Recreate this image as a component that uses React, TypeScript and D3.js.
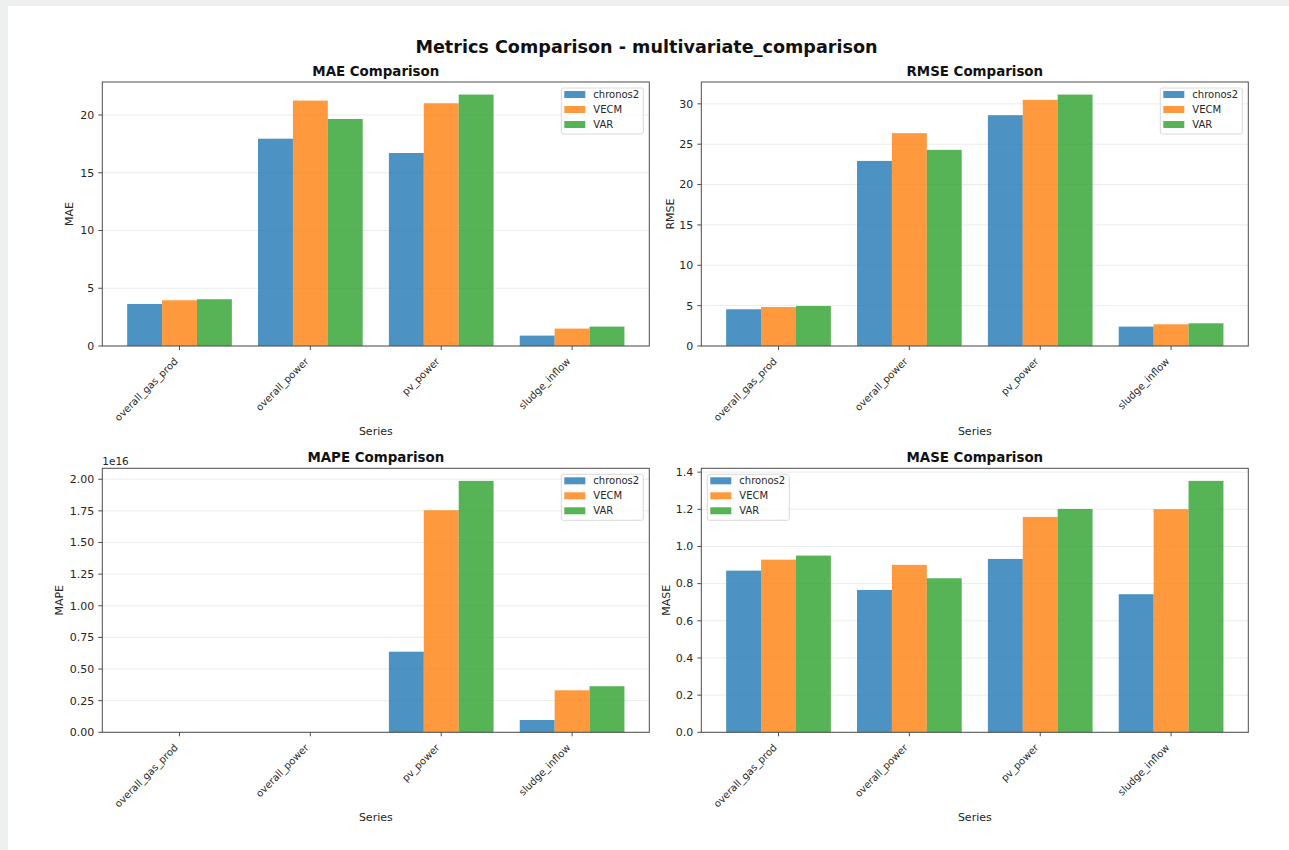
import * as d3 from 'd3';

const categories = ['overall_gas_prod', 'overall_power', 'pv_power', 'sludge_inflow'];
const models = ['chronos2', 'VECM', 'VAR'];
const modelColors = ['#1f77b4', '#ff7f0e', '#2ca02c'];

// rows = models, columns = categories
const maeValues = [
  [3.64, 17.95, 16.71, 0.9],
  [3.96, 21.25, 21.02, 1.51],
  [4.05, 19.66, 21.77, 1.68],
];
const rmseValues = [
  [4.55, 22.93, 28.6, 2.4],
  [4.83, 26.37, 30.5, 2.69],
  [4.96, 24.3, 31.15, 2.81],
];
const mapeValues = [
  [0, 0, 6.37e15, 0.97e15],
  [0, 0, 1.755e16, 3.32e15],
  [0, 0, 1.987e16, 3.64e15],
];
const maseValues = [
  [0.87, 0.766, 0.933, 0.743],
  [0.929, 0.901, 1.159, 1.201],
  [0.951, 0.829, 1.202, 1.353],
];

const maeTicks = [0, 5, 10, 15, 20];
const rmseTicks = [0, 5, 10, 15, 20, 25, 30];
const mapeTicks = [0, 0.25e16, 0.5e16, 0.75e16, 1e16, 1.25e16, 1.5e16, 1.75e16, 2e16];
const maseTicks = [0, 0.2, 0.4, 0.6, 0.8, 1.0, 1.2, 1.4];

const FONT = '"DejaVu Sans", Verdana, sans-serif';

type PanelProps = {
  left: number;
  top: number;
  width: number;
  height: number;
  title: string;
  ylabel: string;
  values: number[][];
  ticks: number[];
  fmt: (v: number) => string;
  legendSide: 'left' | 'right';
  ylabelX: number;
  offsetText?: string;
};

function BarPanel(p: PanelProps) {
  const { left, top, width, height, title, ylabel, values, ticks, fmt, legendSide, ylabelX, offsetText } = p;
  const barW = 0.8 / models.length;
  const lo = -0.4;
  const hi = categories.length - 1 + 0.4;
  const pad = (hi - lo) * 0.05;

  const x = d3.scaleLinear().domain([lo - pad, hi + pad]).range([0, width]);
  const yMax = d3.max(values.flat())! * 1.05;
  const y = d3.scaleLinear().domain([0, yMax]).range([height, 0]);
  const bw = x(barW) - x(0);

  const legW = 82;
  const legX = legendSide === 'right' ? width - legW - 6 : 6;
  const legY = 6;

  return (
    <g transform={`translate(${left}, ${top})`} fontFamily={FONT}>
      {/* grid */}
      {ticks.map((t, i) => (
        <line key={i} x1={0} x2={width} y1={y(t)} y2={y(t)} stroke="#b0b0b0" strokeOpacity={0.3} strokeWidth={0.8} />
      ))}

      {/* bars */}
      {values.map((row, j) =>
        row.map((v, i) => {
          const cx = i + (j - (models.length - 1) / 2) * barW;
          return (
            <rect
              key={`${j}-${i}`}
              x={x(cx) - bw / 2}
              y={y(v)}
              width={bw}
              height={height - y(v)}
              fill={modelColors[j]}
              fillOpacity={0.8}
            />
          );
        })
      )}

      {/* frame */}
      <rect x={0} y={0} width={width} height={height} fill="none" stroke="#4d4d4d" strokeWidth={1} />

      {/* y axis */}
      {ticks.map((t, i) => (
        <g key={i} transform={`translate(0, ${y(t)})`}>
          <line x1={-4} x2={0} stroke="#4d4d4d" />
          <text x={-8} dy="0.35em" textAnchor="end" fontSize={11} fill="#262626">
            {fmt(t)}
          </text>
        </g>
      ))}
      {offsetText && (
        <text x={0} y={-3} fontSize={10.5} fill="#262626">
          {offsetText}
        </text>
      )}

      {/* x axis */}
      {categories.map((c, i) => (
        <g key={c} transform={`translate(${x(i)}, ${height})`}>
          <line y1={0} y2={4} stroke="#4d4d4d" />
          <text transform="translate(-1, 16) rotate(-45)" textAnchor="end" fontSize={10} fill="#262626">
            {c}
          </text>
        </g>
      ))}

      {/* labels */}
      <text x={width / 2} y={-6} textAnchor="middle" fontSize={13.4} fontWeight="bold" fill="#111">
        {title}
      </text>
      <text
        transform={`translate(${ylabelX - left + 4}, ${height / 2}) rotate(-90)`}
        textAnchor="middle"
        fontSize={11}
        fill="#262626"
      >
        {ylabel}
      </text>
      <text x={width / 2} y={height + 89} textAnchor="middle" fontSize={11} fill="#262626">
        Series
      </text>

      {/* legend */}
      <g transform={`translate(${legX}, ${legY})`}>
        <rect width={legW} height={46} rx={2} fill="#fff" fillOpacity={0.8} stroke="#d0d0d0" strokeWidth={0.8} />
        {models.map((m, j) => (
          <g key={m} transform={`translate(0, ${6.5 + j * 15})`}>
            <rect x={3} y={-3.5} width={21} height={7} fill={modelColors[j]} fillOpacity={0.8} />
            <text x={32} dy="0.35em" fontSize={10} fill="#262626">
              {m}
            </text>
          </g>
        ))}
      </g>
    </g>
  );
}

export default function App() {
  const W = 1289;
  const H = 850;
  const axW = 547;
  const axH = 264;
  const colX = [102.3, 701.3];
  const rowY = [82, 468.3];

  return (
    <svg
      width={W}
      height={H}
      style={{ position: 'absolute', left: 0, top: 0, display: 'block' }}
    >
      <rect width={W} height={H} fill="#eef0ef" />
      <rect x={8} y={6} width={W - 8} height={H - 6} fill="#fff" />
      <text x={646.5} y={53} textAnchor="middle" fontFamily={FONT} fontSize={17.6} fontWeight="bold" fill="#111">
        Metrics Comparison - multivariate_comparison
      </text>
      <BarPanel
        left={colX[0]}
        top={rowY[0]}
        width={axW}
        height={axH}
        title="MAE Comparison"
        ylabel="MAE"
        values={maeValues}
        ticks={maeTicks}
        fmt={d3.format('d')}
        legendSide="right"
        ylabelX={69.4}
      />
      <BarPanel
        left={colX[1]}
        top={rowY[0]}
        width={axW}
        height={axH}
        title="RMSE Comparison"
        ylabel="RMSE"
        values={rmseValues}
        ticks={rmseTicks}
        fmt={d3.format('d')}
        legendSide="right"
        ylabelX={669.8}
      />
      <BarPanel
        left={colX[0]}
        top={rowY[1]}
        width={axW}
        height={axH}
        title="MAPE Comparison"
        ylabel="MAPE"
        values={mapeValues}
        ticks={mapeTicks}
        fmt={(v) => d3.format('.2f')(v / 1e16)}
        legendSide="right"
        ylabelX={59}
        offsetText="1e16"
      />
      <BarPanel
        left={colX[1]}
        top={rowY[1]}
        width={axW}
        height={axH}
        title="MASE Comparison"
        ylabel="MASE"
        values={maseValues}
        ticks={maseTicks}
        fmt={d3.format('.1f')}
        legendSide="left"
        ylabelX={665.7}
      />
    </svg>
  );
}
